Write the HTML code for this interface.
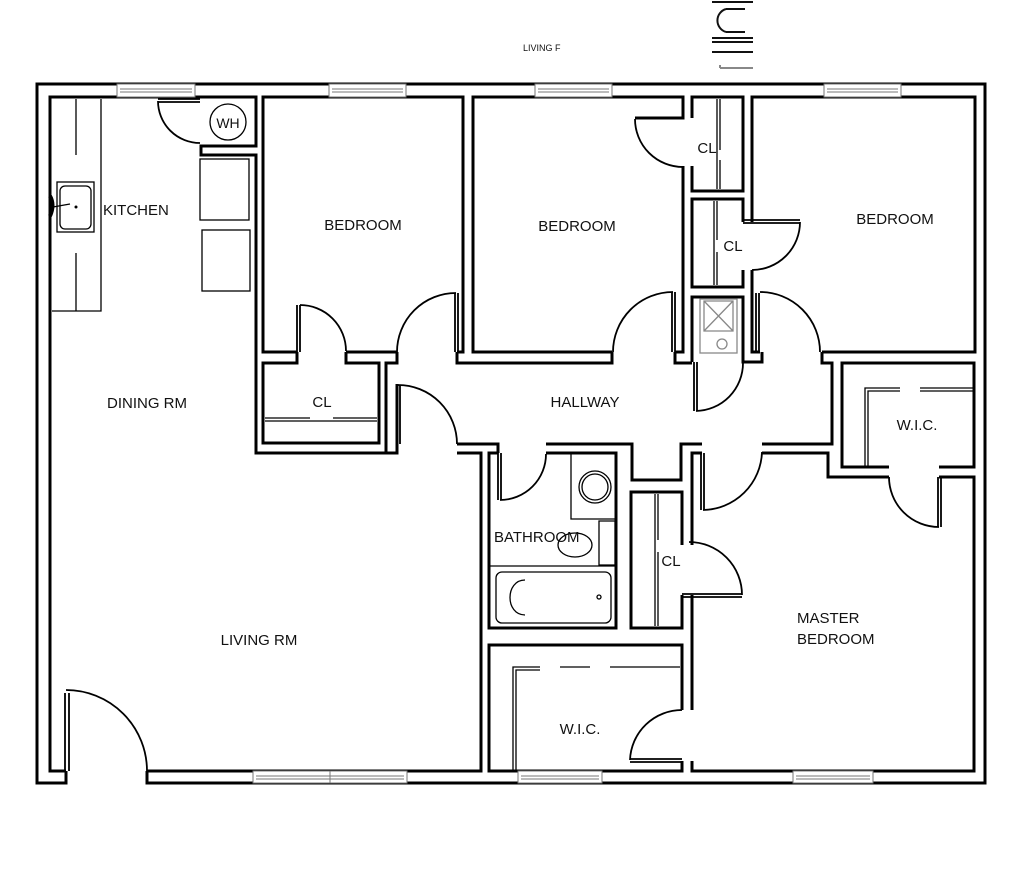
<!DOCTYPE html>
<html><head><meta charset="utf-8"><style>
html,body{margin:0;padding:0;background:#fff;}
svg{display:block;}
text{font-family:"Liberation Sans",Arial,sans-serif;font-size:15px;fill:#111;}
</style></head><body>
<svg width="1024" height="871" viewBox="0 0 1024 871" xmlns="http://www.w3.org/2000/svg">
<rect width="1024" height="871" fill="#fff"/>
<!-- top fragments -->
<text x="523" y="51" style="font-size:9px">LIVING F</text>
<g stroke="#111" stroke-width="2" fill="none">
<path d="M712,2 H753 M726,9 H745 M726,32 H745 M726,9 A12,12 0 0 0 726,32 M712,38 H753 M712,42 H753 M712,52 H753"/>
<path d="M720,68 H753 M720,65 V68" stroke="#888"/>
</g>
<g stroke="#000" stroke-width="3" fill="none" stroke-linejoin="miter">
<!-- outer -->
<path d="M66,771 V783 H37 V84 H985 V783 H147 V771"/>
<!-- living/kitchen -->
<path d="M66,771 H50 V97 H256 V146 H201 V155 H256 V453 H397 V384"/>
<path d="M147,771 H481 V453 H457"/>
<path d="M386,453 V363 H397 V352"/>
<!-- bedroom1 -->
<path d="M297,352 H263 V97 H463 V352 H457"/>
<path d="M346,352 H397"/>
<!-- CL1 -->
<path d="M297,352 V363 H263 V443 H379 V363 H346 V352"/>
<!-- hallway top -->
<path d="M457,352 V363 H612 V352"/>
<!-- bedroom2 -->
<path d="M612,352 H473 V97 H683 V118 H635"/>
<path d="M683,166 V352 H675"/>
<!-- CL2 -->
<path d="M692,118 V97 H743 V191 H692 V166"/>
<!-- CL3 -->
<path d="M743,222 V199 H692 V287 H743 V270"/>
<!-- bedroom3 -->
<path d="M752,222 V97 H975 V352 H822"/>
<path d="M752,270 V352 H760"/>
<!-- linen -->
<path d="M692,362 V297 H743 V362 H762 V352"/>
<path d="M675,352 V363 H692"/>
<!-- hallway right & bottom -->
<path d="M822,352 V363 H832 V444 H762"/>
<path d="M457,444 H498 V453"/>
<path d="M546,444 H632 V480 H681 V444 H702"/>
<!-- bathroom -->
<path d="M498,453 H489 V628 H616 V453 H546"/>
<!-- CL4 -->
<path d="M682,545 V492 H631 V628 H682 V595"/>
<!-- master -->
<path d="M692,545 V453 H702"/>
<path d="M692,595 V710"/>
<path d="M692,761 V771 H974 V477 H939"/>
<path d="M889,477 H828 V453 H762"/>
<!-- WIC1 -->
<path d="M889,467 H842 V363 H974 V467 H939"/>
<!-- WIC2 -->
<path d="M682,710 V645 H489 V771 H682 V761"/>
</g>
<!-- doors -->
<g stroke="#000" stroke-width="1.8" fill="none">
<path d="M66,690 A81,81 0 0 1 147,771"/>
<path d="M65,693 V771 M69,693 V771"/>
<path d="M158,101 A42,42 0 0 0 200,143"/>
<path d="M158,99 H200 M158,102 H200"/>
<path d="M300,305 A46,46 0 0 1 346,351"/>
<path d="M297,305 V352 M300,305 V352"/>
<path d="M397,352 A59,59 0 0 1 456,293"/>
<path d="M455,293 V352 M458,293 V352"/>
<path d="M613,352 A60,60 0 0 1 673,292"/>
<path d="M672,292 V352 M675,292 V352"/>
<path d="M635,119 A48,48 0 0 0 683,167"/>
<path d="M800,222 A48,48 0 0 1 752,270"/>
<path d="M743,220 H800 M743,223 H800"/>
<path d="M760,292 A60,60 0 0 1 820,352"/>
<path d="M756,293 V352 M759,293 V352"/>
<path d="M696,411 A48,48 0 0 0 743,363"/>
<path d="M694,362 V411 M697,362 V411"/>
<path d="M398,385 A59,59 0 0 1 457,444"/>
<path d="M397,385 V444 M400,385 V444"/>
<path d="M500,500 A46,46 0 0 0 546,454"/>
<path d="M498,453 V500 M501,453 V500"/>
<path d="M703,510 A60,60 0 0 0 762,452"/>
<path d="M701,453 V510 M704,453 V510"/>
<path d="M742,595 A53,53 0 0 0 689,542"/>
<path d="M682,594 H742 M682,597 H742"/>
<path d="M939,527 A50,50 0 0 1 889,477"/>
<path d="M938,477 V527 M941,477 V527"/>
<path d="M630,760 A52,52 0 0 1 682,710"/>
<path d="M630,759 H682 M630,762 H682"/>
</g>
<!-- closet rods / shelves -->
<g stroke="#000" stroke-width="1.3" fill="none">
<path d="M265,418 H310 M333,418 H377 M265,421 H377"/>
<path d="M717,99 V189 M720,99 V150 M720,160 V189"/>
<path d="M714,201 V285 M717,201 V240 M717,252 V285"/>
<path d="M655,494 V626 M658,494 V540 M658,552 V626"/>
<path d="M865,467 V388 H900 M920,388 H974 M868,467 V391 H900 M920,391 H974"/>
<path d="M513,771 V667 H540 M560,667 H590 M610,667 H680 M516,771 V670 H540"/>
</g>
<!-- kitchen fixtures -->
<g stroke="#000" stroke-width="1.3" fill="none">
<path d="M52,311 H101 V99"/>
<path d="M76,99 V155 M76,253 V311"/>
<rect x="57" y="182" width="37" height="50"/>
<rect x="60" y="186" width="31" height="43" rx="5"/>
<path d="M53,207 L70,204"/>
<rect x="200" y="159" width="49" height="61"/>
<rect x="202" y="230" width="48" height="61"/>
<circle cx="228" cy="122" r="18"/>
</g>
<circle cx="76" cy="207" r="1.5" fill="#000"/>
<path d="M50,196 Q55,205 50,216" stroke="#000" stroke-width="4" fill="none"/>
<!-- bathroom fixtures -->
<g stroke="#000" stroke-width="1.3" fill="none">
<path d="M571,453 V519 H616"/>
<circle cx="595" cy="487" r="16"/>
<circle cx="595" cy="487" r="13"/>
<path d="M599,521 H615 V565 H599 Z"/>
<ellipse cx="575" cy="545" rx="17" ry="12"/>
<path d="M489,566 H616"/>
<rect x="496" y="572" width="115" height="51" rx="6"/>
<path d="M525,580 C505,580 505,615 525,615"/>
<circle cx="599" cy="597" r="2"/>
</g>
<!-- linen fixture -->
<g stroke="#888" stroke-width="1.3" fill="none">
<rect x="700" y="299" width="37" height="54"/>
<path d="M704,301 H733 V331 H704 Z M704,301 L733,331 M733,301 L704,331"/>
<circle cx="722" cy="344" r="5"/>
</g>
<!-- windows -->
<g fill="#fff" stroke="#777" stroke-width="1">
<rect x="117" y="84" width="78" height="13"/>
<rect x="329" y="84" width="77" height="13"/>
<rect x="535" y="84" width="77" height="13"/>
<rect x="824" y="84" width="77" height="13"/>
<rect x="253" y="771" width="77" height="12"/>
<rect x="330" y="771" width="77" height="12"/>
<rect x="518" y="771" width="84" height="12"/>
<rect x="793" y="771" width="80" height="12"/>
</g>
<g stroke="#777" stroke-width="1" fill="none">
<path d="M120,89 H192 M120,92 H192 M332,89 H403 M332,92 H403 M538,89 H609 M538,92 H609 M827,89 H898 M827,92 H898"/>
<path d="M256,776 H404 M256,779 H404 M521,776 H599 M521,779 H599 M796,776 H870 M796,779 H870"/>
</g>
<!-- labels -->
<text x="228" y="128" text-anchor="middle" style="font-size:14px">WH</text>
<text x="103" y="215">KITCHEN</text>
<text x="363" y="230" text-anchor="middle">BEDROOM</text>
<text x="577" y="231" text-anchor="middle">BEDROOM</text>
<text x="895" y="224" text-anchor="middle">BEDROOM</text>
<text x="707" y="153" text-anchor="middle">CL</text>
<text x="733" y="251" text-anchor="middle">CL</text>
<text x="322" y="407" text-anchor="middle">CL</text>
<text x="671" y="566" text-anchor="middle">CL</text>
<text x="147" y="408" text-anchor="middle">DINING RM</text>
<text x="585" y="407" text-anchor="middle">HALLWAY</text>
<text x="917" y="430" text-anchor="middle">W.I.C.</text>
<text x="580" y="734" text-anchor="middle">W.I.C.</text>
<text x="494" y="542">BATHROOM</text>
<text x="797" y="623">MASTER</text>
<text x="797" y="644">BEDROOM</text>
<text x="259" y="645" text-anchor="middle">LIVING RM</text>
</svg>
</body></html>
